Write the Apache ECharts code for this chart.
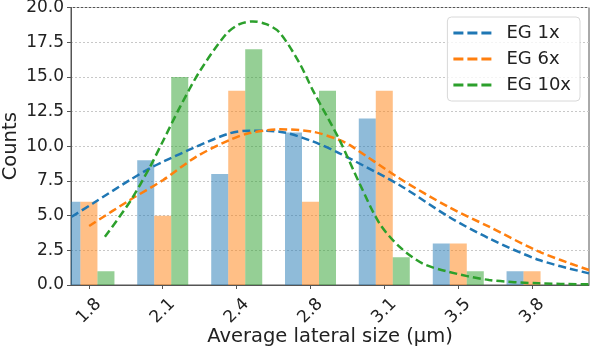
<!DOCTYPE html>
<html>
<head>
<meta charset="utf-8">
<script src="https://cdn.jsdelivr.net/npm/echarts@6/dist/echarts.min.js"></script>
<style>
  html, body { margin: 0; padding: 0; background: #fff; }
  #main { width: 592px; height: 350px; }
</style>
</head>
<body>
<div id="main"></div>
<script>
// bin centres (µm) and the labels matplotlib printed under them
const binCenters = [1.8, 2.133, 2.467, 2.8, 3.133, 3.467, 3.8];
const tickLabels = ['1.8', '2.1', '2.4', '2.8', '3.1', '3.5', '3.8'];

// histogram counts
const countsEG1 = [6, 9, 8, 11, 12, 3, 1];
const countsEG6 = [6, 5, 14, 6, 14, 3, 1];
const countsEG10 = [1, 15, 17, 14, 2, 1, 0];

// fitted curves
const fitEG1X = [1.722, 1.819, 1.985, 2.075, 2.135, 2.285, 2.435, 2.525, 2.66, 2.81, 2.931, 2.976, 3.201, 3.426, 3.606, 3.832, 4.057];
const fitEG1Y = [4.92, 5.89, 7.57, 8.41, 8.89, 9.97, 10.93, 11.12, 11.05, 10.35, 9.49, 9.13, 7.21, 4.9, 3.36, 1.8, 0.84];
const fitEG6X = [1.801, 1.985, 2.135, 2.285, 2.435, 2.525, 2.66, 2.81, 2.931, 2.976, 3.201, 3.426, 3.606, 3.832, 4.057];
const fitEG6Y = [4.25, 6.13, 7.57, 9.25, 10.45, 10.95, 11.22, 11.05, 10.45, 10.1, 7.69, 5.6, 4.2, 2.4, 1.08];
const fitEG10X = [1.872, 1.985, 2.075, 2.135, 2.21, 2.3, 2.42, 2.48, 2.539, 2.6, 2.66, 2.75, 2.81, 2.931, 3.021, 3.111, 3.201, 3.305, 3.411, 3.606, 3.832, 4.057];
const fitEG10Y = [3.48, 6.0, 8.5, 10.4, 12.8, 15.4, 18.1, 18.8, 19.0, 18.8, 18.2, 16.0, 14.05, 10.45, 7.33, 4.45, 2.76, 1.56, 1.0, 0.36, 0.12, 0.05];

const xMin = 1.719;
const xMax = 4.057;

const seriesNames = ['EG 1x', 'EG 6x', 'EG 10x'];
const colors = ['#1f77b4', '#ff7f0e', '#2ca02c'];
const barColors = ['rgba(31,119,180,0.5)', 'rgba(255,127,14,0.5)', 'rgba(44,160,44,0.5)'];
const barPx = 17;

const chart = echarts.init(document.getElementById('main'));
const font = 'DejaVu Sans';
// three short dashes, like the matplotlib legend handle
const dashIcon = 'path://M0,0h10v3h-10z M14,0h10v3h-10z M28,0h10v3h-10z';

const zip = (xs, ys) => xs.map((x, i) => [x, ys[i]]);

// grouped histogram bars, drawn as custom rects so they get cut at the axis like matplotlib does
const barSeries = [countsEG1, countsEG6, countsEG10].map((counts, i) => ({
    name: seriesNames[i] + ' hist',
    type: 'custom',
    clip: true,
    renderItem: (params, api) => {
        const base = api.coord([api.value(0), 0]);
        const top = api.coord([api.value(0), api.value(1)]);
        const rect = echarts.graphic.clipRectByRect({
            x: base[0] + (i - 1) * barPx - barPx / 2,
            y: top[1],
            width: barPx,
            height: base[1] - top[1]
        }, {
            x: params.coordSys.x, y: params.coordSys.y,
            width: params.coordSys.width, height: params.coordSys.height
        });
        return rect && { type: 'rect', shape: rect, style: { fill: barColors[i] } };
    },
    encode: { x: 0, y: 1 },
    data: zip(binCenters, counts),
    z: 1
}));

const lineSeries = [[fitEG1X, fitEG1Y], [fitEG6X, fitEG6Y], [fitEG10X, fitEG10Y]].map((xy, i) => ({
    name: seriesNames[i],
    type: 'line',
    smooth: 0.3,
    showSymbol: false,
    symbol: 'none',
    clip: true,
    lineStyle: { color: colors[i], width: 2.5, type: [8, 4] },
    itemStyle: { color: colors[i] },
    data: zip(xy[0], xy[1]),
    z: 3
}));

function nearestLabel(v) {
    let best = 0;
    binCenters.forEach((c, i) => { if (Math.abs(c - v) < Math.abs(binCenters[best] - v)) best = i; });
    return tickLabels[best];
}

chart.setOption({
    animation: false,
    textStyle: { fontFamily: font },
    grid: {
        left: 71, right: 3, top: 7.5, bottom: 65,
        containLabel: false, outerBoundsMode: 'none',
        show: true, borderColor: '#555', borderWidth: 1
    },
    legend: {
        data: seriesNames.map((n, i) => ({ name: n, icon: dashIcon, itemStyle: { color: colors[i] } })),
        orient: 'vertical',
        right: 12,
        top: 17,
        itemWidth: 38,
        itemHeight: 3,
        itemGap: 6,
        padding: [6, 9, 6, 6],
        backgroundColor: 'rgba(255,255,255,0.8)',
        borderColor: '#d8d8d8',
        borderWidth: 1,
        borderRadius: 4,
        textStyle: { fontFamily: font, fontSize: 18, color: '#222', lineHeight: 20, padding: [0, 0, 0, 10] }
    },
    xAxis: {
        type: 'value',
        min: xMin,
        max: xMax,
        name: 'Average lateral size (μm)',
        nameLocation: 'middle',
        nameGap: 42,
        nameMoveOverlap: false,
        nameTextStyle: { fontFamily: font, fontSize: 19.5, color: '#222' },
        axisLine: { lineStyle: { color: '#555' } },
        axisTick: { show: true, customValues: binCenters, length: 4, lineStyle: { color: '#555' } },
        axisLabel: {
            customValues: binCenters,
            formatter: nearestLabel,
            rotate: 45,
            align: 'center',
            verticalAlign: 'middle',
            margin: 26,
            fontFamily: font,
            fontSize: 17,
            color: '#222'
        },
        splitLine: { show: false }
    },
    yAxis: {
        type: 'value',
        min: 0,
        max: 20,
        interval: 2.5,
        name: 'Counts',
        nameLocation: 'middle',
        nameGap: 50,
        nameMoveOverlap: false,
        nameTextStyle: { fontFamily: font, fontSize: 19.5, color: '#222' },
        axisLine: { show: true, lineStyle: { color: '#555' } },
        axisTick: { show: true, length: 4, lineStyle: { color: '#555' } },
        axisLabel: { formatter: v => v.toFixed(1), fontFamily: font, fontSize: 17, color: '#222', margin: 7 },
        splitLine: { show: true, lineStyle: { color: '#c8c8c8', type: [2, 2], width: 1 } }
    },
    series: [...barSeries, ...lineSeries]
});

window.onresize = () => chart.resize();
</script>
</body>
</html>
